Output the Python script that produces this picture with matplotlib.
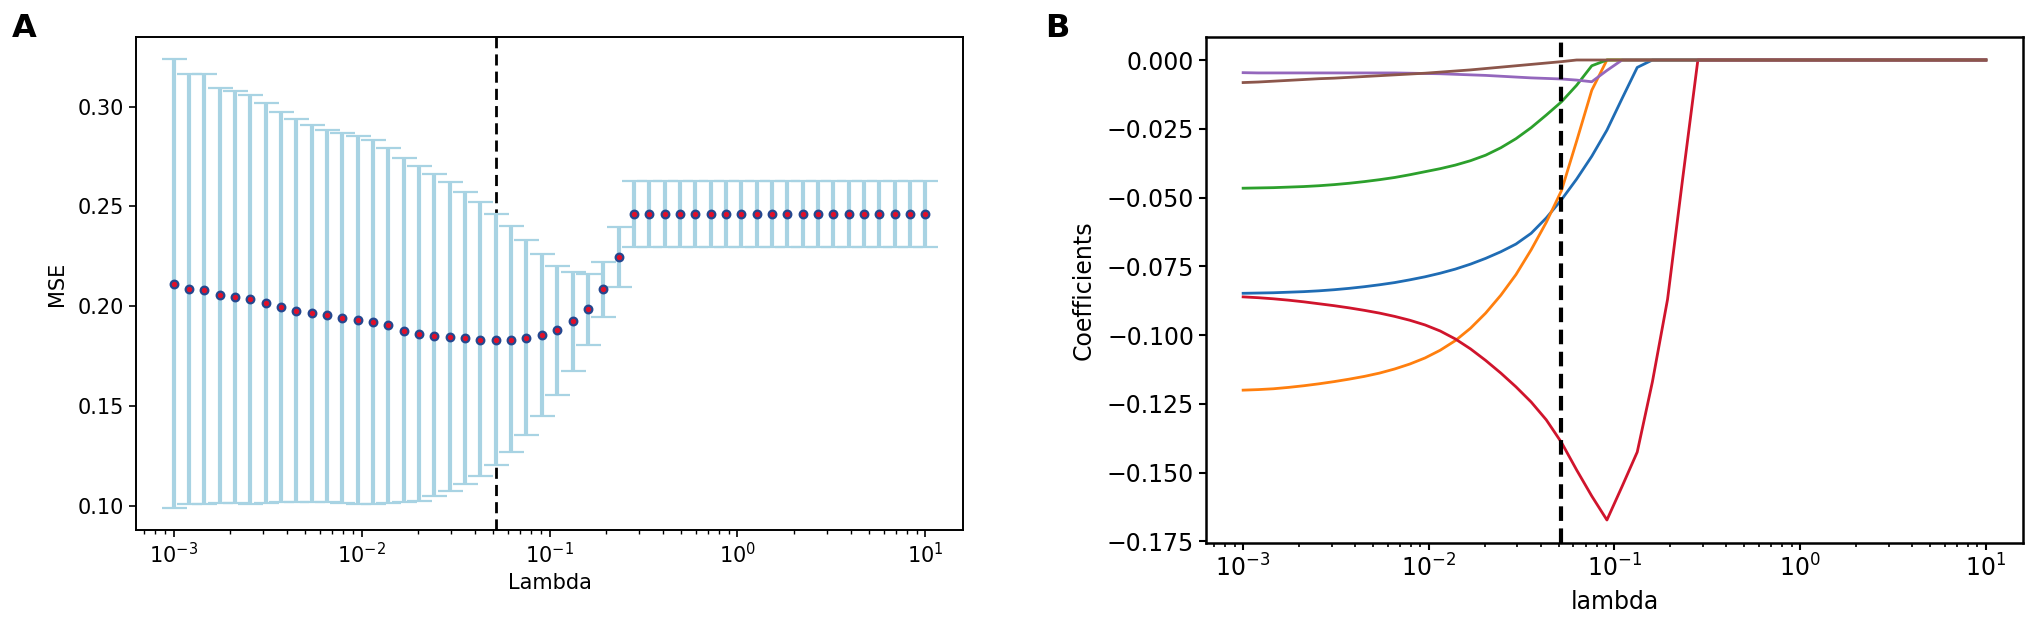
import numpy as np
import matplotlib
matplotlib.use("Agg")
import matplotlib.pyplot as plt

# lambda grid (50 values, 1e-3 .. 1e1)
lambdas = np.logspace(-3, 1, 50)
best_idx = 21

# panel A: cross-validated MSE with error bars
mse = [0.2112, 0.2084, 0.2079, 0.2054, 0.2044, 0.2034, 0.2015, 0.1997, 0.1977, 0.1963,
       0.1953, 0.1940, 0.1932, 0.1921, 0.1904, 0.1877, 0.1859, 0.1851, 0.1846, 0.1838,
       0.1831, 0.1829, 0.1832, 0.1841, 0.1853, 0.1881, 0.1923, 0.1983, 0.2084, 0.2246] + [0.2460] * 20
mse_upper = [0.3236, 0.3161, 0.3161, 0.3092, 0.3077, 0.3057, 0.3017, 0.2973, 0.2935, 0.2906,
             0.2883, 0.2866, 0.2852, 0.2832, 0.2791, 0.2744, 0.2702, 0.2663, 0.2621, 0.2573,
             0.2520, 0.2461, 0.2399, 0.2332, 0.2260, 0.2203, 0.2169, 0.2159, 0.2223, 0.2394] + [0.2625] * 20
mse_lower = [0.0990, 0.1007, 0.1007, 0.1015, 0.1015, 0.1007, 0.1012, 0.1017, 0.1020, 0.1020,
             0.1018, 0.1015, 0.1008, 0.1008, 0.1015, 0.1018, 0.1022, 0.1047, 0.1075, 0.1106,
             0.1146, 0.1202, 0.1268, 0.1355, 0.1451, 0.1554, 0.1675, 0.1804, 0.1943, 0.2097] + [0.2298] * 20

# panel B: coefficient paths
coef_blue = [-0.0848, -0.0847, -0.0846, -0.0844, -0.0842, -0.0839, -0.0835, -0.0830, -0.0824, -0.0817,
             -0.0809, -0.0799, -0.0788, -0.0775, -0.0760, -0.0742, -0.0721, -0.0697, -0.0669, -0.0630,
             -0.0574, -0.0508, -0.0433, -0.0350, -0.0255, -0.0140, -0.0027] + [0.0] * 23
coef_orange = [-0.1200, -0.1198, -0.1195, -0.1190, -0.1184, -0.1177, -0.1169, -0.1160, -0.1150, -0.1138,
               -0.1123, -0.1105, -0.1083, -0.1055, -0.1020, -0.0975, -0.0920, -0.0855, -0.0780, -0.0690,
               -0.0590, -0.0475, -0.0295, -0.0110] + [0.0] * 26
coef_green = [-0.0466, -0.0465, -0.0464, -0.0462, -0.0460, -0.0457, -0.0453, -0.0448, -0.0442, -0.0435,
              -0.0427, -0.0417, -0.0406, -0.0395, -0.0382, -0.0366, -0.0346, -0.0319, -0.0286, -0.0246,
              -0.0200, -0.0152, -0.0092, -0.0021] + [0.0] * 26
coef_red = [-0.0861, -0.0864, -0.0868, -0.0873, -0.0879, -0.0886, -0.0893, -0.0901, -0.0910, -0.0920,
            -0.0932, -0.0946, -0.0963, -0.0985, -0.1014, -0.1050, -0.1092, -0.1138, -0.1188, -0.1243,
            -0.1308, -0.1390, -0.1490, -0.1585, -0.1672, -0.1550, -0.1425, -0.1170, -0.0870, -0.0430] + [0.0] * 20
coef_purple = [-0.0046, -0.0047, -0.0047, -0.0047, -0.0047, -0.0047, -0.0047, -0.0047, -0.0047, -0.0047,
               -0.0047, -0.0048, -0.0049, -0.0050, -0.0052, -0.0054, -0.0056, -0.0059, -0.0062, -0.0065,
               -0.0067, -0.0069, -0.0073, -0.0079, -0.0038] + [0.0] * 25
coef_brown = [-0.0082, -0.0080, -0.0077, -0.0074, -0.0071, -0.0068, -0.0066, -0.0063, -0.0060, -0.0057,
              -0.0054, -0.0051, -0.0048, -0.0044, -0.0040, -0.0036, -0.0031, -0.0026, -0.0021, -0.0016,
              -0.0011, -0.0006] + [0.0] * 28

W, H = 2033, 621
fig = plt.figure(figsize=(W / 100, H / 100), dpi=100)

# ---- A ----
axA = fig.add_axes([136 / W, 1 - 530 / H, 827 / W, 493 / H])
mse = np.array(mse)
yerr = [mse - np.array(mse_lower), np.array(mse_upper) - mse]
axA.errorbar(lambdas, mse, yerr=yerr, fmt='o', ecolor='#a8d3e3', elinewidth=3,
             capsize=9, capthick=2, markersize=5.5, markerfacecolor='#e0102a',
             markeredgecolor='#24478f', markeredgewidth=1.6, zorder=3)
axA.axvline(lambdas[best_idx], color='black', linestyle='--', linewidth=2, dashes=(4, 2.2))
axA.set_xscale('log')
axA.set_xlabel('Lambda', fontsize=15, labelpad=4)
axA.set_ylabel('MSE', fontsize=15, labelpad=8)
axA.tick_params(labelsize=15, length=5, width=1.2)
axA.tick_params(which='minor', length=3, width=1)
for s in axA.spines.values():
    s.set_linewidth(1.4)

# ---- B ----
axB = fig.add_axes([1206 / W, 1 - 543 / H, 817 / W, 506 / H])
for vals, col in [(coef_blue, '#1f6cb4'), (coef_orange, '#ff7f0e'), (coef_green, '#2ca02c'),
                  (coef_red, '#d0142c'), (coef_purple, '#9467bd'), (coef_brown, '#8c564b')]:
    axB.plot(lambdas, vals, color=col, linewidth=2)
axB.axvline(lambdas[best_idx], color='black', linestyle='--', linewidth=3, dashes=(3.5, 1.8))
axB.set_xscale('log')
axB.set_xlabel('lambda', fontsize=17, labelpad=6)
axB.set_ylabel('Coefficients', fontsize=17, labelpad=8)
axB.tick_params(labelsize=17, length=5, width=1.5)
axB.tick_params(which='minor', length=3, width=1.2)
for s in axB.spines.values():
    s.set_linewidth(1.8)

fig.text(12 / W, 1 - 37 / H, 'A', fontsize=23, fontweight='bold', va='baseline')
fig.text(1045 / W, 1 - 37 / H, 'B', fontsize=23, fontweight='bold', va='baseline')

fig.savefig('out.png', dpi=100)
